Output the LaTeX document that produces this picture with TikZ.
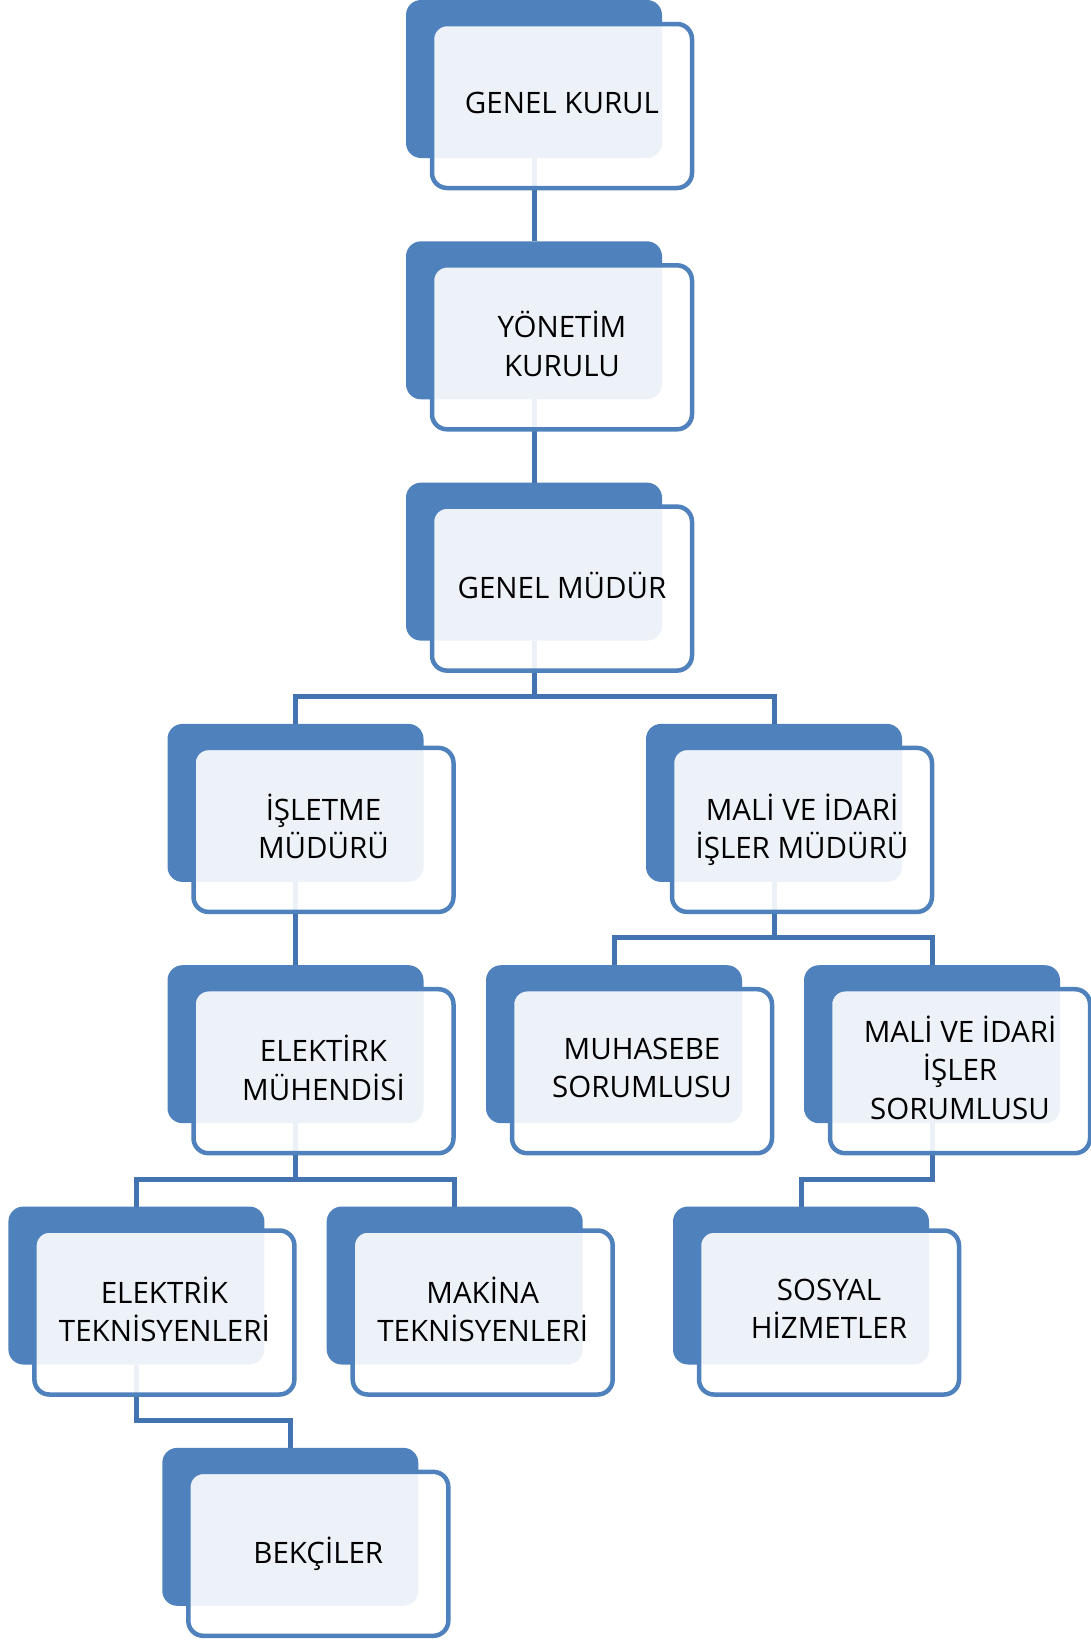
\documentclass[tikz,border=0pt]{standalone}
\usepackage{fontspec}
\setmainfont{Open Sans}
\definecolor{kutu}{HTML}{4F81BD}
\definecolor{hat}{HTML}{4373B0}

\begin{document}
\begin{tikzpicture}[x=1pt,y=-1pt,
    arka/.style={fill=kutu, rounded corners=15pt, minimum width=256pt, minimum height=158pt,
        anchor=north west, inner sep=0pt, outer sep=0pt},
    on/.style={draw=kutu, line width=4.5pt, fill=white, fill opacity=0.9, text opacity=1,
        rounded corners=15pt, minimum width=260pt, minimum height=164pt, anchor=north west,
        inner sep=0pt, outer sep=0pt, align=center, text depth=7pt,
        font=\fontsize{29.5}{38.5}\selectfont},
    baglanti/.style={draw=hat, line width=5pt}]
    \useasboundingbox (0,0) rectangle (1091,1641);

    % Arka kutular
    \node[arka] (gk0) at (406,0) {};
    \node[arka] (yk0) at (406,241.3) {};
    \node[arka] (gm0) at (406,482.6) {};
    \node[arka] (im0) at (167.5,723.9) {};
    \node[arka] (mm0) at (646,723.9) {};
    \node[arka] (em0) at (167.5,965.2) {};
    \node[arka] (mu0) at (486,965.2) {};
    \node[arka] (ms0) at (804,965.2) {};
    \node[arka] (et0) at (8.4,1206.5) {};
    \node[arka] (mt0) at (326.7,1206.5) {};
    \node[arka] (sh0) at (673,1206.5) {};
    \node[arka] (bk0) at (162.3,1447.8) {};

    % Baglantilar
    \draw[baglanti] (gk0.south) -- (yk0.north);
    \draw[baglanti] (yk0.south) -- (gm0.north);
    \draw[baglanti] (gm0.south) -- ++(0,56) -| (im0.north);
    \draw[baglanti] (gm0.south) -- ++(0,56) -| (mm0.north);
    \draw[baglanti] (im0.south) -- (em0.north);
    \draw[baglanti] (mm0.south) -- ++(0,56) -| (mu0.north);
    \draw[baglanti] (mm0.south) -- ++(0,56) -| (ms0.north);
    \draw[baglanti] (em0.south) -- ++(0,56) -| (et0.north);
    \draw[baglanti] (em0.south) -- ++(0,56) -| (mt0.north);
    \draw[baglanti] (ms0.south) -- ++(0,56) -| (sh0.north);
    \draw[baglanti] (et0.south) -- ++(0,56) -| (bk0.north);

    % On kutular
    \node[on] (gk) at (432,24) {GENEL KURUL};
    \node[on] (yk) at (432,265.3) {YÖNETİM\\KURULU};
    \node[on] (gm) at (432,506.6) {GENEL MÜDÜR};
    \node[on] (im) at (193.5,747.9) {İŞLETME\\MÜDÜRÜ};
    \node[on] (mm) at (672,747.9) {MALİ VE İDARİ\\İŞLER MÜDÜRÜ};
    \node[on] (em) at (193.5,989.2) {ELEKTİRK\\MÜHENDİSİ};
    \node[on] (mu) at (512,989.2) {MUHASEBE\\SORUMLUSU};
    \node[on] (ms) at (830,989.2) {MALİ VE İDARİ\\İŞLER\\SORUMLUSU};
    \node[on] (et) at (34.4,1230.5) {ELEKTRİK\\TEKNİSYENLERİ};
    \node[on] (mt) at (352.7,1230.5) {MAKİNA\\TEKNİSYENLERİ};
    \node[on] (sh) at (699,1230.5) {SOSYAL\\HİZMETLER};
    \node[on] (bk) at (188.3,1471.8) {BEKÇİLER};
\end{tikzpicture}
\end{document}
